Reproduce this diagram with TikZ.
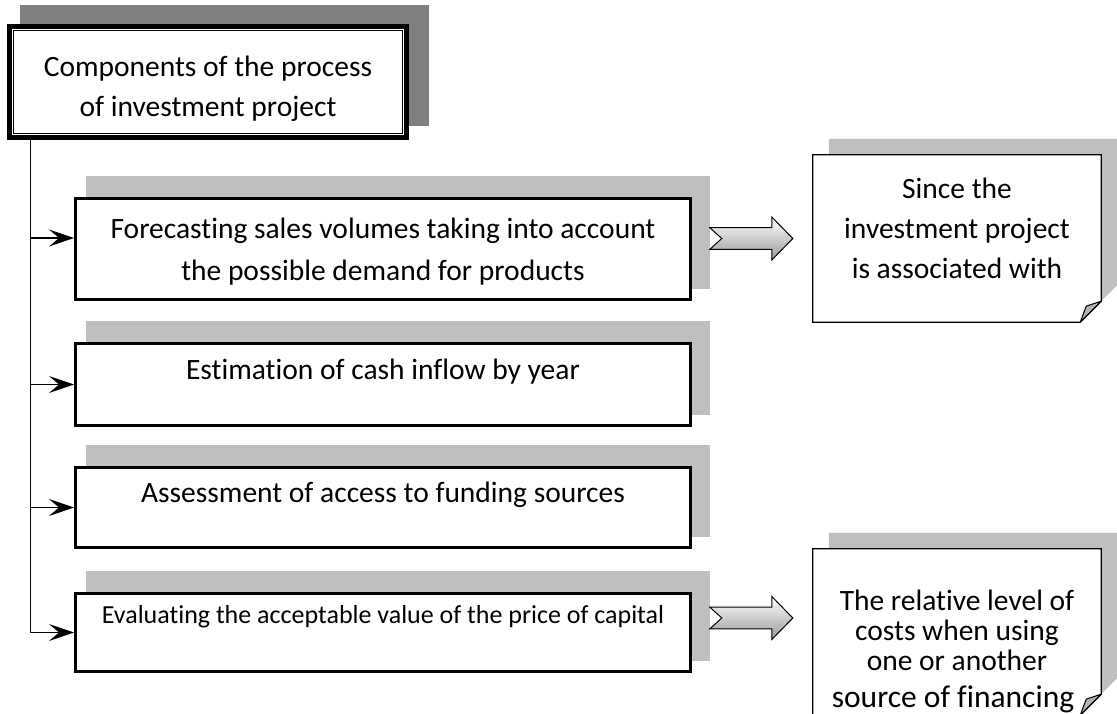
\documentclass[tikz,border=0pt]{standalone}
\usepackage{fontspec}
\setmainfont{Carlito}[Ligatures={NoCommon}]
\usetikzlibrary{arrows.meta,positioning,backgrounds}
\definecolor{shadelight}{HTML}{BFBFBF}
\definecolor{shadedark}{HTML}{808080}
\newcommand{\fatarrow}[1]{\draw[fatarr] (#1) +(0,-10.8) -- +(62,-10.8) -- +(62,-21.5) -- +(83,0) -- +(62,21.5) -- +(62,10.8) -- +(0,10.8) -- +(12,0) -- cycle;}
\newcommand{\foldnote}[3]{\path[#2] ([shift={#3}]#1.north west) -- ([shift={#3}]#1.north east) -- ([shift={#3},yshift=21pt]#1.south east) -- ([shift={#3},xshift=-21pt]#1.south east) -- ([shift={#3}]#1.south west) -- cycle;}
\newcommand{\foldtip}[1]{\draw[foldcorner] ([xshift=-21pt]#1.south east) -- ([shift={(-15,-16)}]#1.south east) -- ([yshift=21pt]#1.south east) -- cycle;}

\begin{document}
\begin{tikzpicture}[x=1pt,y=-1pt,
  every node/.style={font=\fontsize{29.5}{40}\selectfont},
  topbox/.style={draw,fill=white,line width=5pt,minimum width=397pt,minimum height=111pt,align=center},
  stepbox/.style={draw,fill=white,line width=3.4pt,minimum width=614.6pt,inner ysep=0pt},
  notebox/.style={minimum width=288pt,inner sep=0pt},
  notetext/.style={align=center},
  tree/.style={line width=1.4pt,-{Stealth[length=25pt,width=17pt,inset=10pt]}},
  fatarr/.style={draw,line width=1pt,top color=white,bottom color=black!40,line join=miter},
  foldcorner/.style={draw,line width=1pt,fill=black!30,line join=round}]
\useasboundingbox (0,0) rectangle (1117,714);

% title
\node[topbox] (comp) at (208,82) {\rule{0pt}{34pt}Components of the process\\of investment project};
\draw[line width=1.2pt] ([shift={(6.5,6.5)}]comp.north west) rectangle ([shift={(-6.5,-6.5)}]comp.south east);

% components
\node[stepbox,minimum height=100.6pt,align=center,font=\fontsize{29.5}{42}\selectfont] (fore) at (383,249) {\rule{0pt}{26pt}Forecasting sales volumes taking into account\\the possible demand for products};
\node[stepbox,text height=35.3pt,text depth=46.3pt] (cash) at (383,384.5) {Estimation of cash inflow by year};
\node[stepbox,text height=34.3pt,text depth=45.3pt] (fund) at (383,507.5) {Assessment of access to funding sources};
\node[stepbox,text height=29.3pt,text depth=48.3pt,font=\fontsize{26}{30}\selectfont] (price) at (383,632.5) {Evaluating the acceptable value of the price of capital};

% notes
\node[notebox,minimum height=167pt] (since) at (957,238.5) {};
\node[notetext] (sincetxt) at ([yshift=10.5pt]since.center) {Since the\\investment project\\is associated with};
\node[notebox,minimum height=166pt] (costs) at (957,632) {};
\node[notetext,font=\fontsize{29.5}{30}\selectfont] (coststxt) at ([yshift=-19pt]costs.center) {The relative level of\\costs when using\\one or another\\[7pt]{\fontsize{31.5}{32}\selectfont source of financing}\hspace*{8pt}};

% shadows and note outlines
\begin{scope}[on background layer]
\clip (0,0) rectangle (1117,714);
\fill[shadedark] ([shift={(12.5,-18.5)}]comp.north west) rectangle ([shift={(19.5,-13.5)}]comp.south east);
\foreach \b in {fore,cash,fund,price}
  \fill[shadelight] ([shift={(12.3,-20.7)}]\b.north west) rectangle ([shift={(17.7,-12.3)}]\b.south east);
\foreach \n in {since,costs} {
  \foldnote{\n}{fill=shadelight}{(16,-16)}
  \foldnote{\n}{draw,line width=1.2pt,fill=white}{(0,0)}
  \foldtip{\n}
}
\end{scope}

% connectors
\coordinate (trunk) at ([xshift=23.5pt]comp.south west);
\draw[tree] (trunk) |- ([yshift=11pt]fore.west);
\foreach \b in {cash,fund,price}
  \draw[tree] (trunk) |- (\b.west);

\fatarrow{[xshift=-103pt]since.west}
\fatarrow{[xshift=-103pt,yshift=14pt]costs.west}
\end{tikzpicture}
\end{document}
